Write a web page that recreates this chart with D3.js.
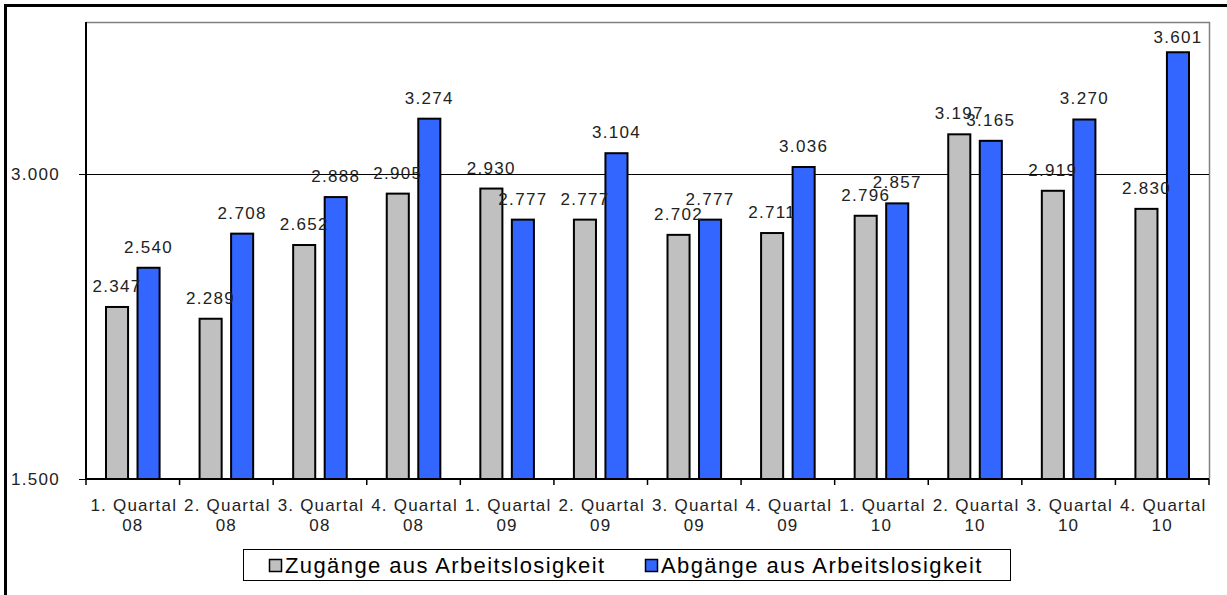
<!DOCTYPE html>
<html>
<head>
<meta charset="utf-8">
<script src="https://cdn.jsdelivr.net/npm/d3@7"></script>
<style>
  body { margin: 0; background: #fff; }
  text { font-family: "Liberation Sans", Arial, sans-serif; }
</style>
</head>
<body>
<svg width="1227" height="595"></svg>
<script>
// data
var quarters = ["1. Quartal|08", "2. Quartal|08", "3. Quartal|08", "4. Quartal|08",
                "1. Quartal|09", "2. Quartal|09", "3. Quartal|09", "4. Quartal|09",
                "1. Quartal|10", "2. Quartal|10", "3. Quartal|10", "4. Quartal|10"]
var zugaenge = [2347, 2289, 2652, 2905, 2930, 2777, 2702, 2711, 2796, 3197, 2919, 2830]
var abgaenge = [2540, 2708, 2888, 3274, 2777, 3104, 2777, 3036, 2857, 3165, 3270, 3601]
var seriesNames = ["Zugänge aus Arbeitslosigkeit", "Abgänge aus Arbeitslosigkeit"]
var yTicks = [1500, 3000]

var colors = ["#c0c0c0", "#3366ff"]
var svg = d3.select("svg")
// plot area edges (note: "top" is reserved on window, so use pTop etc.)
var pLeft = 86, pRight = 1209, pTop = 22, pBottom = 479

var de = d3.formatLocale({decimal: ",", thousands: ".", grouping: [3], currency: ["", "€"]})
var fmt = de.format(",")

// outer frame (left + top only visible)
svg.append("path")
    .attr("d", "M5.5,595 L5.5,5.5 L1227,5.5")
    .attr("fill", "none").attr("stroke", "#000").attr("stroke-width", 3)

var x = d3.scaleBand().domain(quarters).range([pLeft, pRight])
var xi = d3.scaleBand().domain([0, 1]).range([20, x.bandwidth() - 20]).paddingInner(0.3)
var y = d3.scaleLinear().domain([1500, 3750]).range([pBottom, pTop])

// plot border (gray top / right)
svg.append("path")
    .attr("d", "M" + pLeft + "," + (pTop + 0.5) + " L" + (pRight + 0.5) + "," + (pTop + 0.5) + " L" + (pRight + 0.5) + "," + pBottom)
    .attr("fill", "none").attr("stroke", "#808080").attr("stroke-width", 1.5)

// gridline
svg.selectAll(".grid").data(yTicks.slice(1)).enter().append("line")
    .attr("x1", pLeft).attr("x2", pRight)
    .attr("y1", function(d) { return Math.round(y(d)) + 0.5 })
    .attr("y2", function(d) { return Math.round(y(d)) + 0.5 })
    .attr("stroke", "#000").attr("stroke-width", 1)

// bars
var groups = svg.selectAll(".grp").data(quarters).enter().append("g")
    .attr("transform", function(d) { return "translate(" + x(d) + ",0)" })

groups.selectAll("rect")
    .data(function(d, i) { return [zugaenge[i], abgaenge[i]] })
    .enter().append("rect")
    .attr("x", function(d, j) { return xi(j) })
    .attr("y", function(d) { return y(d) })
    .attr("width", xi.bandwidth())
    .attr("height", function(d) { return pBottom - y(d) })
    .attr("fill", function(d, j) { return colors[j] })
    .attr("stroke", "#000").attr("stroke-width", 2)

groups.selectAll(".lbl")
    .data(function(d, i) { return [zugaenge[i], abgaenge[i]] })
    .enter().append("text")
    .attr("x", function(d, j) { return xi(j) + xi.bandwidth() / 2 })
    .attr("y", function(d) { return Math.max(y(d) - 15, pTop + 21) })
    .attr("text-anchor", "middle")
    .attr("font-size", 17).attr("letter-spacing", 1.3)
    .attr("fill", "#222")
    .text(function(d) { return fmt(d) })

// x axis
var xAxis = svg.append("g").attr("transform", "translate(0," + pBottom + ")")
xAxis.append("line").attr("x1", pLeft).attr("x2", pRight).attr("stroke", "#000").attr("stroke-width", 2)
xAxis.selectAll(".tk").data(quarters.concat([null])).enter().append("line")
    .attr("x1", function(d, i) { return pLeft + i * x.step() })
    .attr("x2", function(d, i) { return pLeft + i * x.step() })
    .attr("y1", 0).attr("y2", 6)
    .attr("stroke", "#000").attr("stroke-width", 1.5)
xAxis.selectAll(".xl").data(quarters).enter().append("text")
    .attr("x", function(d) { return x(d) + x.bandwidth() / 2 })
    .attr("text-anchor", "middle")
    .attr("font-size", 17).attr("letter-spacing", 1.2)
    .attr("fill", "#222")
    .each(function(d) {
        var parts = d.split("|")
        d3.select(this).append("tspan").attr("x", x(d) + x.bandwidth() / 2 + 1).attr("y", 32).text(parts[0])
        d3.select(this).append("tspan").attr("x", x(d) + x.bandwidth() / 2).attr("y", 52).text(parts[1])
    })

// y axis
var yAxis = svg.append("g")
yAxis.append("line").attr("x1", pLeft).attr("x2", pLeft).attr("y1", pTop).attr("y2", pBottom)
    .attr("stroke", "#000").attr("stroke-width", 2)
yAxis.selectAll(".yt").data(yTicks).enter().append("line")
    .attr("x1", pLeft - 7).attr("x2", pLeft)
    .attr("y1", function(d) { return Math.round(y(d)) + 0.5 })
    .attr("y2", function(d) { return Math.round(y(d)) + 0.5 })
    .attr("stroke", "#000").attr("stroke-width", 1)
yAxis.selectAll(".yl").data(yTicks).enter().append("text")
    .attr("x", 60)
    .attr("y", function(d) { return y(d) + 6 })
    .attr("text-anchor", "end")
    .attr("font-size", 17).attr("letter-spacing", 1.3)
    .attr("fill", "#222")
    .text(function(d) { return fmt(d) })

// legend
var legend = svg.append("g")
legend.append("rect").attr("x", 243.5).attr("y", 549.5).attr("width", 767).attr("height", 31)
    .attr("fill", "#fff").attr("stroke", "#000").attr("stroke-width", 1)
var legX = [269, 645]
var items = legend.selectAll(".li").data(seriesNames).enter().append("g")
    .attr("transform", function(d, i) { return "translate(" + legX[i] + ",559)" })
items.append("rect").attr("x", 0.5).attr("y", 0.5).attr("width", 12).attr("height", 12)
    .attr("fill", function(d, i) { return colors[i] })
    .attr("stroke", "#000").attr("stroke-width", 1.5)
items.append("text").attr("x", 16).attr("y", 14)
    .attr("font-size", 22).attr("letter-spacing", 1.4)
    .attr("fill", "#000")
    .text(function(d) { return d })
</script>
</body>
</html>
